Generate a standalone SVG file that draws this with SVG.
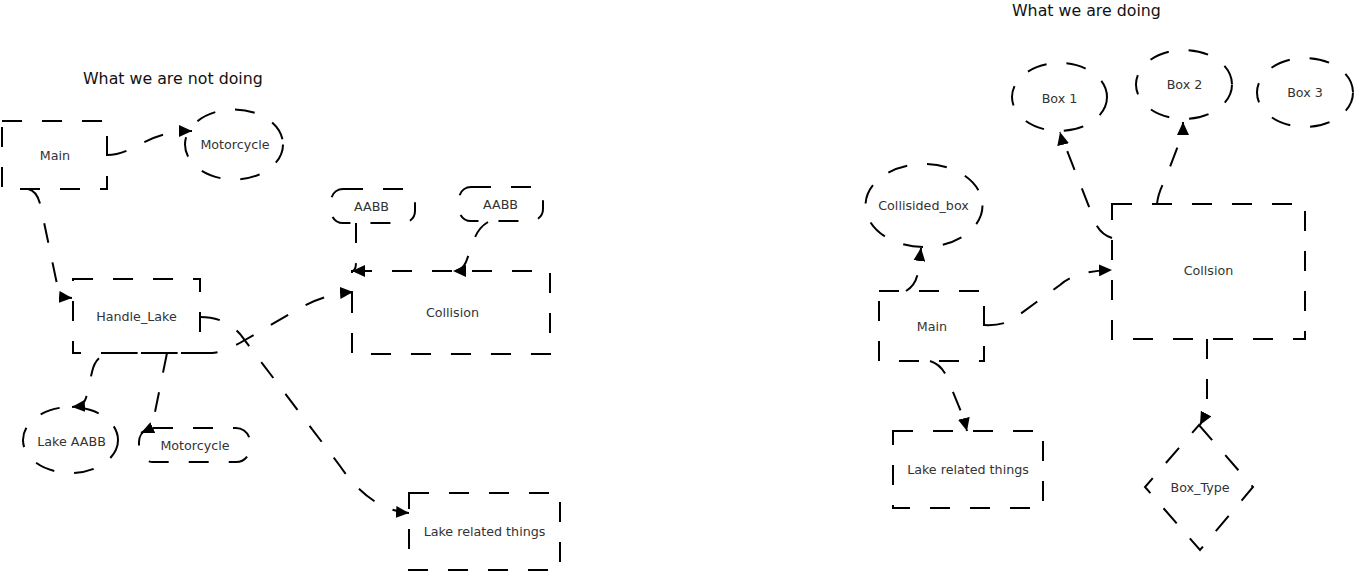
<svg xmlns="http://www.w3.org/2000/svg" width="1355" height="572" viewBox="0 0 1355 572">
<style>
.node { fill: none; stroke: #000; stroke-width: 2; stroke-dasharray: 20 20; }
.edge { fill: none; stroke: #000; stroke-width: 2; stroke-dasharray: 20 20; marker-end: url(#arr); }
.lbl { font-family: "DejaVu Sans", sans-serif; font-size: 12.7px; fill: #333; text-anchor: middle; }
.title { font-family: "DejaVu Sans", sans-serif; font-size: 15.8px; fill: #111; }
</style>
<defs>
<marker id="arr" viewBox="0 0 13 12" refX="13" refY="6" markerWidth="13" markerHeight="12" markerUnits="userSpaceOnUse" orient="auto-start-reverse">
<path d="M0,0 L13,6 L0,12 z" fill="#000"/>
</marker>
</defs>
<rect x="0" y="0" width="1355" height="572" fill="#fff"/>

<text class="title" x="83" y="84">What we are not doing</text>
<text class="title" x="1012" y="16">What we are doing</text>

<g id="connectors">
<path class="edge" d="M107,155 C135,155 145,131 192,131"/>
<path class="edge" d="M28,189 Q38,191 41,208 L57,284 Q60,297 72,298"/>
<path class="edge" style="marker-start:url(#arr)" d="M72,407 Q84,406 86,398 L92,372 Q96,354 112,353 L212,353 Q225,352 245,340 L300,308 Q325,294 353,292"/>
<path class="edge" d="M167,353 L155,412 Q152,428 141,433"/>
<path class="edge" d="M200,317 Q225,317 240,334 L340,466 Q370,510 409,513"/>
<path class="edge" d="M356,223 L356,262 Q356,271 352,271"/>
<path class="edge" d="M488,222 Q478,228 474,240 L466,262 Q462,271 453,271"/>

<path class="edge" d="M1112,238 Q1100,234 1095,222 L1066,148 Q1062,140 1060,132"/>
<path class="edge" d="M1157,204 Q1158,193 1165,180 L1181,138 Q1183,130 1183,122"/>
<path class="edge" d="M1207,339 L1207,398 Q1207,412 1200,425"/>
<path class="edge" d="M906,291 Q916,285 918,272 L921,248"/>
<path class="edge" d="M984,325 Q1000,326 1012,320 L1060,285 Q1075,271 1112,270"/>
<path class="edge" d="M930,361 Q940,364 946,375 L964,419 L967,431"/>
</g>

<g id="main-left">
<rect class="node" x="2" y="121" width="105" height="68"/>
<text class="lbl" x="55" y="160">Main</text>
</g>
<g id="motorcycle-ellipse">
<ellipse class="node" cx="234" cy="144.5" rx="49" ry="35"/>
<text class="lbl" x="235" y="149">Motorcycle</text>
</g>
<g id="handle-lake">
<rect class="node" x="73" y="279" width="127" height="74"/>
<text class="lbl" x="136.5" y="321">Handle_Lake</text>
</g>
<g id="lake-aabb">
<ellipse class="node" cx="70.5" cy="440" rx="47.5" ry="33"/>
<text class="lbl" x="71.5" y="445.5">Lake AABB</text>
</g>
<g id="motorcycle-round">
<rect class="node" x="139" y="428" width="111" height="34" rx="14" ry="14"/>
<text class="lbl" x="195" y="450">Motorcycle</text>
</g>
<g id="aabb-1">
<rect class="node" x="331" y="189" width="84" height="34" rx="12" ry="12"/>
<text class="lbl" x="371.5" y="211">AABB</text>
</g>
<g id="aabb-2">
<rect class="node" x="459" y="187" width="84" height="34" rx="12" ry="12"/>
<text class="lbl" x="500.5" y="209">AABB</text>
</g>
<g id="collision-left">
<rect class="node" x="352" y="271" width="198" height="83"/>
<text class="lbl" x="452.5" y="317">Collision</text>
</g>
<g id="lake-related-left">
<rect class="node" x="409" y="493" width="151" height="77"/>
<text class="lbl" x="484.5" y="536">Lake related things</text>
</g>

<g id="box-1">
<ellipse class="node" cx="1059.5" cy="97" rx="47.5" ry="34"/>
<text class="lbl" x="1059.5" y="102.7">Box 1</text>
</g>
<g id="box-2">
<ellipse class="node" cx="1184" cy="84.5" rx="48" ry="34.5"/>
<text class="lbl" x="1184.5" y="89">Box 2</text>
</g>
<g id="box-3">
<ellipse class="node" cx="1305" cy="92.5" rx="48" ry="34.5"/>
<text class="lbl" x="1305" y="97">Box 3</text>
</g>
<g id="collisided-box">
<ellipse class="node" cx="924" cy="205.5" rx="58.5" ry="41.5"/>
<text class="lbl" x="923.5" y="210">Collisided_box</text>
</g>
<g id="main-right">
<rect class="node" x="879" y="291" width="105" height="70"/>
<text class="lbl" x="932" y="330.5">Main</text>
</g>
<g id="collsion-right">
<rect class="node" x="1112" y="204" width="193" height="135"/>
<text class="lbl" x="1208.5" y="275">Collsion</text>
</g>
<g id="lake-related-right">
<rect class="node" x="893" y="431" width="150" height="77"/>
<text class="lbl" x="968" y="474">Lake related things</text>
</g>
<g id="box-type">
<polygon class="node" points="1199,425 1253,487 1200,550 1145,487"/>
<text class="lbl" x="1200" y="491.5">Box_Type</text>
</g>
</svg>
